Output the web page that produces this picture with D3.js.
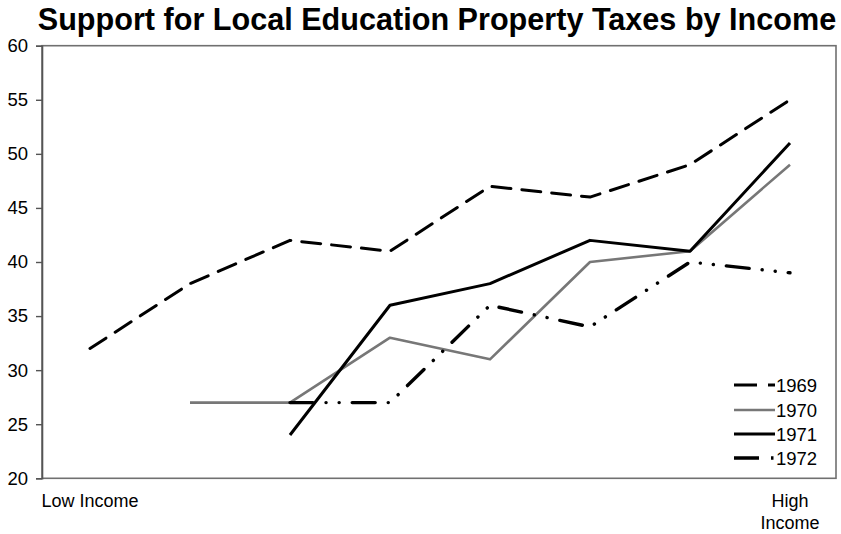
<!DOCTYPE html>
<html>
<head>
<meta charset="utf-8">
<script src="https://cdn.jsdelivr.net/npm/d3@7"></script>
<style>
  html, body { margin: 0; padding: 0; background: #fff; }
  svg { display: block; font-family: "Liberation Sans", Arial, sans-serif; }
</style>
</head>
<body>
<svg id="chart" width="841" height="534"></svg>
<script>
// Income brackets, lowest to highest
const incomeGroups = [1, 2, 3, 4, 5, 6, 7, 8];
const yTicks = [20, 25, 30, 35, 40, 45, 50, 55, 60];
const years = ["1969", "1970", "1971", "1972"];

// Percent supporting local education property taxes (null = no data)
const v1969 = [32, 38, 42, 41, 47, 46, 49, 55];
const v1970 = [null, 27, 27, 33, 31, 40, 41, 49];
const v1971 = [null, null, 24, 36, 38, 42, 41, 51];
const v1972 = [null, null, 27, 27, 36, 34, 40, 39];

const seriesValues = [v1969, v1970, v1971, v1972];
const styles = [
  { color: "#000", width: 3, dash: "19 11" },
  { color: "#777", width: 2.6, dash: null },
  { color: "#000", width: 3, dash: null },
  { color: "#000", width: 3.4, dash: "23 13 0.1 13 0.1 13" }
];

const svg = d3.select("#chart");
const plot = { left: 42, right: 836, top: 45.7, bottom: 478.3 };

const x = d3.scalePoint().domain(incomeGroups).range([90, 790]);
const y = d3.scaleLinear().domain([20, 60]).range([plot.bottom, plot.top]);

// Title
svg.append("text")
  .attr("x", 437).attr("y", 30)
  .attr("text-anchor", "middle")
  .attr("font-size", 30.6).attr("font-weight", "bold")
  .text("Support for Local Education Property Taxes by Income");

// Plot frame
svg.append("rect")
  .attr("x", plot.left).attr("y", plot.top)
  .attr("width", plot.right - plot.left).attr("height", plot.bottom - plot.top)
  .attr("fill", "none").attr("stroke", "#707070").attr("stroke-width", 1.6);

// Y axis
const yAxis = d3.axisLeft(y).tickValues(yTicks).tickSize(6).tickPadding(8);
const gy = svg.append("g").attr("transform", `translate(${plot.left},0)`).call(yAxis);
gy.select(".domain").attr("stroke", "#555").attr("stroke-width", 1.6);
gy.selectAll(".tick line").attr("stroke", "#555").attr("stroke-width", 1.4);
gy.selectAll(".tick text").attr("font-size", 18.5).attr("fill", "#000")
  .attr("font-family", "Liberation Sans, Arial, sans-serif");

// X axis labels at the two ends of the income scale
svg.append("text")
  .attr("x", x(incomeGroups[0])).attr("y", 507)
  .attr("text-anchor", "middle").attr("font-size", 18)
  .text("Low Income");
const hi = svg.append("text")
  .attr("x", x(incomeGroups[incomeGroups.length - 1]))
  .attr("y", 507).attr("text-anchor", "middle").attr("font-size", 18);
hi.append("tspan").attr("x", x(incomeGroups[incomeGroups.length - 1])).text("High");
hi.append("tspan").attr("x", x(incomeGroups[incomeGroups.length - 1])).attr("dy", 22).text("Income");

// Lines
const line = d3.line()
  .defined(d => d.v !== null)
  .x(d => x(d.g))
  .y(d => y(d.v));

seriesValues.forEach((vals, i) => {
  const pts = incomeGroups.map((g, j) => ({ g, v: vals[j] }));
  const s = styles[i];
  svg.append("path")
    .datum(pts)
    .attr("d", line)
    .attr("fill", "none")
    .attr("stroke", s.color)
    .attr("stroke-width", s.width)
    .attr("stroke-linecap", s.dash ? "round" : "butt")
    .attr("stroke-linejoin", "round")
    .attr("stroke-dasharray", s.dash);
});

// Legend
const legendRows = [385, 410, 434, 458];
const legendDash = ["23 11", null, null, "25 12 2.5 20"];
years.forEach((yr, i) => {
  const s = styles[i];
  svg.append("line")
    .attr("x1", 734).attr("x2", 775)
    .attr("y1", legendRows[i]).attr("y2", legendRows[i])
    .attr("stroke", s.color).attr("stroke-width", s.width)
    .attr("stroke-linecap", "butt")
    .attr("stroke-dasharray", legendDash[i]);
  svg.append("text")
    .attr("x", 776).attr("y", legendRows[i] + 6.5)
    .attr("font-size", 18.5)
    .text(yr);
});
</script>
</body>
</html>
